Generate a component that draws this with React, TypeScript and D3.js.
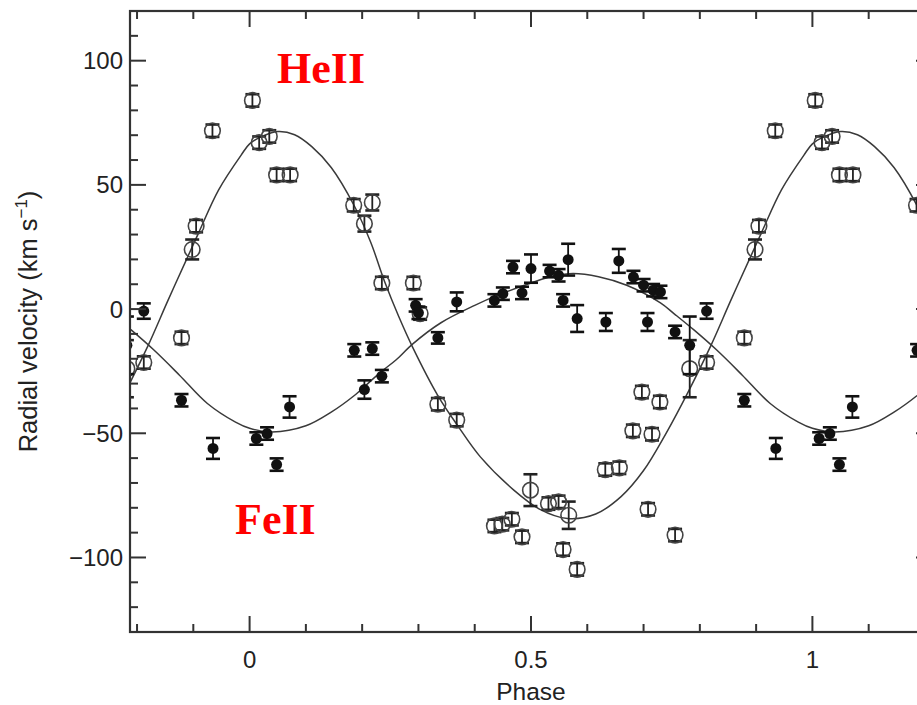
import * as d3 from "d3";
import { useEffect, useRef } from "react";

// phase, velocity (km/s), error (km/s) -- one period, repeated at phase -1 and +1
const heIIPoints: [number, number, number][] = [
    [0.005, 84, 2.5], [0.017, 67, 2.5], [0.035, 69.5, 2.5], [0.048, 54, 2.5], [0.072, 54, 2.5],
    [0.185, 41.8, 2.5], [0.204, 34.4, 3.2], [0.218, 42.9, 3.2], [0.235, 10.5, 2.5],
    [0.291, 10.5, 2.5], [0.303, -1.8, 2.5], [0.3345, -38.3, 2.5], [0.368, -44.7, 2.5],
    [0.435, -87.3, 2.5], [0.449, -86.6, 2.5], [0.466, -84.6, 2.5], [0.484, -91.7, 2.5],
    [0.499, -72.9, 6.4], [0.531, -78.3, 2.5], [0.549, -77.6, 2.5], [0.557, -96.8, 2.5],
    [0.567, -83, 5.5], [0.582, -104.8, 2.5], [0.632, -64.6, 2.5], [0.657, -63.9, 2.5],
    [0.681, -49, 2.5], [0.697, -33.4, 2.5], [0.708, -80.6, 2.5], [0.715, -50.4, 2.5],
    [0.729, -37.4, 2.5], [0.756, -91, 2.5], [0.782, -24, 11.5], [0.812, -21.5, 2.5],
    [0.879, -11.6, 2.5], [0.898, 24, 4], [0.905, 33.4, 2.5], [0.934, 71.8, 2.5],
];

const feIIPoints: [number, number, number][] = [
    [0.012, -52.1, 2.5], [0.031, -50.1, 2.5], [0.048, -62.6, 2.5], [0.071, -39.4, 4.3],
    [0.186, -16.6, 2.5], [0.204, -32.4, 3.7], [0.218, -15.9, 2.5], [0.235, -27, 2.5],
    [0.295, 1.5, 2.5], [0.3, -1.5, 2.5], [0.3345, -11.6, 2.3], [0.368, 2.9, 3.8],
    [0.435, 3.5, 2.5], [0.45, 6.2, 2.5], [0.468, 16.9, 2.5], [0.484, 6.5, 2.5],
    [0.5, 16.3, 5.7], [0.533, 15.3, 2.5], [0.549, 13.6, 2.5], [0.557, 3.5, 2.5],
    [0.566, 19.9, 6.4], [0.582, -3.8, 5.4], [0.633, -5.2, 3.6], [0.656, 19.4, 4.8],
    [0.682, 12.9, 2.5], [0.7, 9.6, 2.5], [0.707, -5.2, 3.6], [0.717, 7.6, 2.5],
    [0.73, 6.9, 2.5], [0.756, -9.2, 2.5], [0.782, -14.6, 11.6], [0.812, -0.8, 3.1],
    [0.879, -36.7, 2.5], [0.935, -56.1, 4.2],
];

// fitted orbit curves
const heIICurve: [number, number][] = [
    [0, 66.5], [0.02, 69.3], [0.05, 71.5], [0.08, 70.2], [0.11, 65.5], [0.145, 57],
    [0.185, 42], [0.215, 27], [0.24, 11], [0.265, -3], [0.29, -15.5], [0.335, -35],
    [0.37, -47], [0.41, -59.5], [0.47, -73], [0.515, -80.5], [0.565, -84.3], [0.615, -82.5],
    [0.66, -75.5], [0.7, -65], [0.74, -50], [0.78, -33], [0.82, -14.5], [0.855, 3.5],
    [0.89, 21], [0.91, 31], [0.945, 48], [0.985, 62],
];

const feIICurve: [number, number][] = [
    [0, -48], [0.04, -49.5], [0.1, -47], [0.145, -41.5], [0.185, -35], [0.21, -30],
    [0.235, -25], [0.26, -20.5], [0.29, -14], [0.34, -5.5], [0.4, 1.5], [0.44, 5.5],
    [0.5, 10.5], [0.54, 13.3], [0.575, 14.3], [0.62, 13], [0.67, 9.6], [0.73, 2.5],
    [0.755, -2], [0.79, -8.5], [0.83, -16.5], [0.875, -26.5], [0.925, -38], [0.975, -45.5],
];

const xMajorTicks = [0, 0.5, 1];
const xTickLabels = ["0", "0.5", "1"];
const yMajorTicks = [100, 50, 0, -50, -100];
const yTickLabels = ["100", "50", "0", "\u2212" + "50", "\u2212" + "100"];

const periodShifts = [-1, 0, 1];

export default function App() {
    const svgRef = useRef<SVGSVGElement>(null);

    const width = 917;
    const height = 705;
    const left = 130, right = 932, top = 11, bottom = 632;
    const font = "'Liberation Sans', Arial, Helvetica, sans-serif";

    useEffect(() => {
        const svg = d3.select(svgRef.current);
        svg.selectAll("*").remove();

        const x = d3.scaleLinear().domain([-0.2125, 1.2125]).range([left, right]);
        const y = d3.scaleLinear().domain([-130, 120]).range([bottom, top]);

        svg.append("defs").append("clipPath").attr("id", "plot-clip")
            .append("rect")
            .attr("x", left).attr("y", top)
            .attr("width", right - left).attr("height", bottom - top);

        const plot = svg.append("g").attr("clip-path", "url(#plot-clip)");

        // repeat one period of a curve over the visible phase range
        const unfold = (pts: [number, number][]) =>
            periodShifts
                .flatMap(s => pts.map(([p, v]) => [p + s, v] as [number, number]))
                .filter(([p]) => p > -0.4 && p < 1.4)
                .sort((a, b) => a[0] - b[0]);

        const line = d3.line<[number, number]>()
            .x(d => x(d[0]))
            .y(d => y(d[1]))
            .curve(d3.curveCatmullRom.alpha(0.5));

        [heIICurve, feIICurve].forEach(c => {
            plot.append("path")
                .datum(unfold(c))
                .attr("d", line)
                .attr("fill", "none")
                .attr("stroke", "#3a3a3a")
                .attr("stroke-width", 1.5);
        });

        const unfoldPts = (pts: [number, number, number][]) =>
            periodShifts
                .flatMap(s => pts.map(([p, v, e]) => [p + s, v, e] as [number, number, number]))
                .filter(([p]) => p > -0.25 && p < 1.25);

        const drawErrors = (pts: [number, number, number][], color: string) => {
            const g = plot.append("g").attr("stroke", color);
            pts.forEach(([p, v, e]) => {
                const cx = x(p);
                g.append("line").attr("x1", cx).attr("x2", cx)
                    .attr("y1", y(v - e)).attr("y2", y(v + e))
                    .attr("stroke-width", 1.8);
                [v - e, v + e].forEach(t => {
                    g.append("line").attr("x1", cx - 7).attr("x2", cx + 7)
                        .attr("y1", y(t)).attr("y2", y(t))
                        .attr("stroke-width", 2.6);
                });
            });
        };

        const he = unfoldPts(heIIPoints);
        const fe = unfoldPts(feIIPoints);

        drawErrors(he, "#222");
        plot.append("g").selectAll("circle").data(he).join("circle")
            .attr("cx", d => x(d[0]))
            .attr("cy", d => y(d[1]))
            .attr("r", 7.8)
            .attr("fill", "none")
            .attr("stroke", "#444")
            .attr("stroke-width", 1.6);

        drawErrors(fe, "#111");
        plot.append("g").selectAll("circle").data(fe).join("circle")
            .attr("cx", d => x(d[0]))
            .attr("cy", d => y(d[1]))
            .attr("r", 5.5)
            .attr("fill", "#111");

        // frame with inward ticks on all four sides
        const axis = svg.append("g").attr("stroke", "#333");
        axis.append("rect")
            .attr("x", left).attr("y", top)
            .attr("width", right - left).attr("height", bottom - top)
            .attr("fill", "none").attr("stroke-width", 2.2);

        const xMinor = d3.range(-2, 13).map(i => i / 10).filter(t => !xMajorTicks.includes(t));
        const yMinor = d3.range(-12, 12).map(i => i * 10).filter(t => !yMajorTicks.includes(t));

        const xTicks = [...xMajorTicks.map(t => [t, 16]), ...xMinor.map(t => [t, 8])];
        const yTicks = [...yMajorTicks.map(t => [t, 16]), ...yMinor.map(t => [t, 8])];

        xTicks.forEach(([t, len]) => {
            axis.append("line").attr("x1", x(t)).attr("x2", x(t))
                .attr("y1", bottom).attr("y2", bottom - len).attr("stroke-width", 2);
            axis.append("line").attr("x1", x(t)).attr("x2", x(t))
                .attr("y1", top).attr("y2", top + len).attr("stroke-width", 2);
        });
        yTicks.forEach(([t, len]) => {
            axis.append("line").attr("x1", left).attr("x2", left + len)
                .attr("y1", y(t)).attr("y2", y(t)).attr("stroke-width", 2);
            axis.append("line").attr("x1", right).attr("x2", right - len)
                .attr("y1", y(t)).attr("y2", y(t)).attr("stroke-width", 2);
        });

        // tick labels
        svg.append("g").selectAll("text").data(xMajorTicks).join("text")
            .attr("x", d => x(d))
            .attr("y", 668)
            .attr("text-anchor", "middle")
            .attr("font-family", font)
            .attr("font-size", 24)
            .attr("fill", "#222")
            .text((_, i) => xTickLabels[i]);

        svg.append("g").selectAll("text").data(yMajorTicks).join("text")
            .attr("x", 123)
            .attr("y", d => y(d) + 8.5)
            .attr("text-anchor", "end")
            .attr("font-family", font)
            .attr("font-size", 24)
            .attr("fill", "#222")
            .text((_, i) => yTickLabels[i]);

        // axis titles
        svg.append("text")
            .attr("x", 531)
            .attr("y", 700)
            .attr("text-anchor", "middle")
            .attr("font-family", font)
            .attr("font-size", 24.5)
            .attr("fill", "#222")
            .text("Phase");

        const yTitle = svg.append("text")
            .attr("transform", `translate(37,${(top + bottom) / 2}) rotate(-90)`)
            .attr("text-anchor", "middle")
            .attr("font-family", font)
            .attr("font-size", 25.5)
            .attr("fill", "#222");
        yTitle.append("tspan").text("Radial velocity (km s");
        yTitle.append("tspan").attr("dy", -10).attr("font-size", 17).text("\u22121");
        yTitle.append("tspan").attr("dy", 10).text(")");

        // line labels
        svg.append("text")
            .attr("x", 277).attr("y", 83)
            .attr("font-family", "'Liberation Serif', 'Times New Roman', serif")
            .attr("font-weight", "bold")
            .attr("font-size", 44)
            .attr("fill", "#ff0000")
            .text("HeII");
        svg.append("text")
            .attr("x", 235).attr("y", 534)
            .attr("font-family", "'Liberation Serif', 'Times New Roman', serif")
            .attr("font-weight", "bold")
            .attr("font-size", 44)
            .attr("fill", "#ff0000")
            .text("FeII");
    }, []);

    return (
        <svg
            ref={svgRef}
            width={width}
            height={height}
            style={{ position: "absolute", left: 0, top: 0, background: "#fff" }}
        />
    );
}
